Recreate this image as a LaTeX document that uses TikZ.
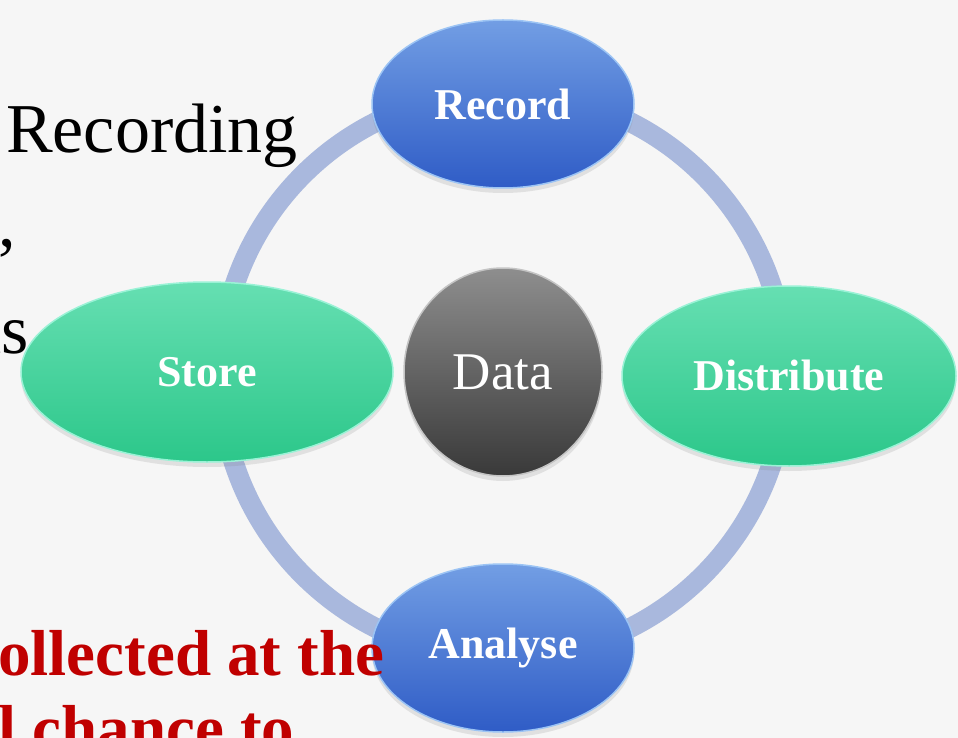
\documentclass[tikz,border=0pt]{standalone}
\usepackage{fontspec}
\setmainfont{Liberation Serif}
\usepackage{tikz}
\usetikzlibrary{
	shapes.geometric,
	shadows
}
\definecolor{pagebg}{HTML}{F6F6F6}
\definecolor{ringblue}{HTML}{A9B8DD}
\definecolor{bluetop}{HTML}{729EE4}
\definecolor{bluebot}{HTML}{2F5CC6}
\definecolor{bluerim}{HTML}{9CC4F4}
\definecolor{greentop}{HTML}{66DFB2}
\definecolor{greenbot}{HTML}{2CC78A}
\definecolor{greenrim}{HTML}{9AF2D6}
\definecolor{greytop}{HTML}{8E8E8E}
\definecolor{greybot}{HTML}{393939}
\definecolor{greyrim}{HTML}{C4C4C4}
\definecolor{slidered}{HTML}{C00000}
\tikzset{
	stage/.style={
		ellipse,
		inner sep=0pt,
		line width=1.5pt,
		text=white,
		font=\fontsize{44}{50}\selectfont\bfseries,
		drop shadow={opacity=0.18,shadow xshift=0pt,shadow yshift=-5pt}
	},
	bluestage/.style={
		stage,
		draw=bluerim,
		top color=bluetop,
		bottom color=bluebot,
		minimum width=262pt,
		minimum height=168pt
	},
	greenstage/.style={
		stage,
		draw=greenrim,
		top color=greentop,
		bottom color=greenbot,
		minimum height=180pt
	},
	hub/.style={
		stage,
		draw=greyrim,
		top color=greytop,
		bottom color=greybot,
		font=\fontsize{53}{60}\selectfont,
		minimum width=198pt,
		minimum height=208pt
	},
	ring/.style={
		draw=ringblue,
		line width=20pt
	},
	slidetext/.style={
		inner sep=0pt,
		font=\fontsize{70}{84}\selectfont
	},
	redtext/.style={
		inner sep=0pt,
		text=slidered,
		font=\fontsize{65}{78}\selectfont\bfseries
	}
}

\begin{document}
\begin{tikzpicture}[x=1pt,y=-1pt]
	\useasboundingbox (0,0) rectangle (958,738);
	\fill[pagebg] (0,0) rectangle (958,738);

	\coordinate (hubcentre) at (503,375);
	\draw[ring] (hubcentre) circle[radius=283];

	\node[bluestage]                        (record)     at (503,104) {Record};
	\node[bluestage]                        (analyse)    at (503,648) {Analyse};
	\node[greenstage,minimum width=372pt]   (store)      at (207,372) {Store};
	\node[greenstage,minimum width=334pt]   (distribute) at (789,376) {Distribute};
	\node[hub]                              (data)       at (503,372) {Data};

	\node[slidetext,anchor=base west] (recording) at (6,153)  {Recording};
	\node[slidetext,anchor=base east] (comma)     at (16,246) {,};
	\node[slidetext,anchor=base east] (as)        at (29,353) {as};
	\node[redtext,anchor=base west]   (collected) at (-2,675) {ollected at the};
	\node[redtext,anchor=base west]   (chance)    at (-2,750) {l chance to};
\end{tikzpicture}
\end{document}
